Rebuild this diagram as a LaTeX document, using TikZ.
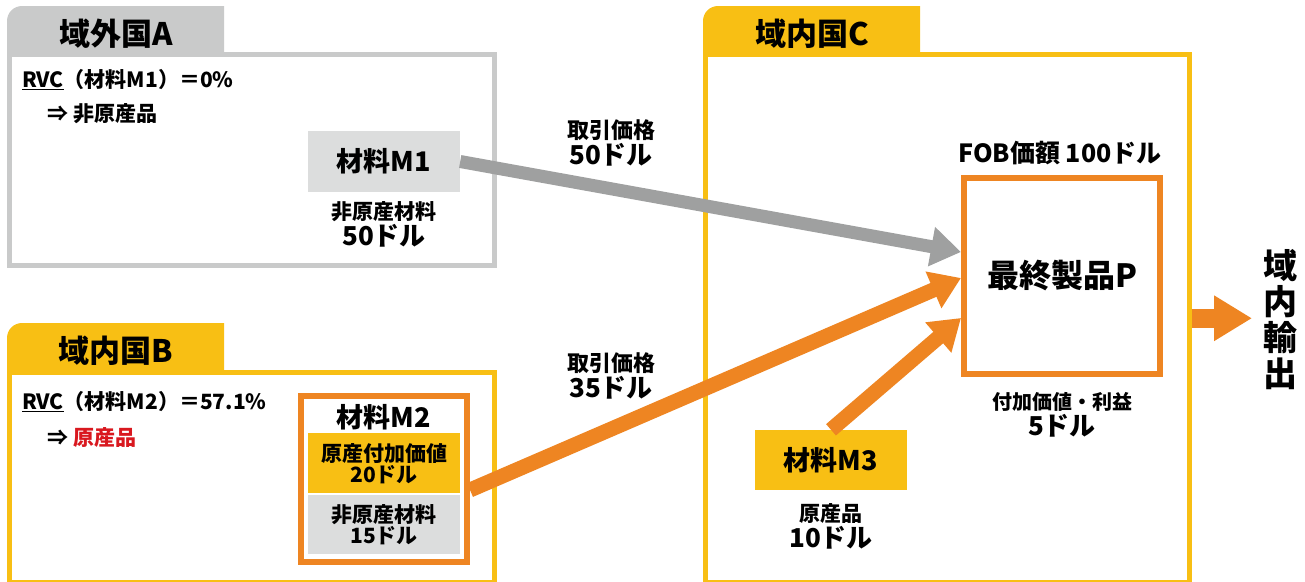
\documentclass[tikz,border=0pt]{standalone}
\usepackage{fontspec}
\setmainfont{Noto Sans CJK JP}
\usetikzlibrary{arrows.meta,positioning}

\definecolor{paleGray}{HTML}{C9CACA}
\definecolor{boxGray}{HTML}{DCDDDD}
\definecolor{arrowGray}{HTML}{9FA0A0}
\definecolor{gold}{HTML}{F8BF14}
\definecolor{tangerine}{HTML}{EE8522}
\definecolor{alertRed}{HTML}{D9181F}

\newcommand{\fsz}[1]{\fontsize{#1}{#1}\selectfont}

\begin{document}
\begin{tikzpicture}[
    x=1pt, y=-1pt,
    country/.style={draw, line width=5pt, fill=white, inner sep=0pt},
    title/.style={font=\fsz{31}\bfseries},
    rvc/.style={anchor=west, font=\fsz{21}\bfseries, inner sep=0pt},
    mat/.style={inner sep=0pt, minimum width=152pt, font=\fsz{27}\bfseries},
    cell/.style={inner sep=0pt, minimum width=152pt, align=center, font=\fsz{21}\bfseries, text depth=0pt},
    notetext/.style={align=center, inner sep=0pt},
    flow/.style={line width=15pt, tangerine, -{Triangle[width=38pt,length=30pt]}},
    graylink/.style={line width=13pt, arrowGray, -{Triangle[width=38pt,length=30pt]}}
]
    \useasboundingbox (0,0) rectangle (1305,581);

    % country boxes
    \node [country, draw=paleGray, minimum width=484.5pt, minimum height=211pt] (boxA) at (251.75,160) {};
    \node [country, draw=gold, minimum width=484.5pt, minimum height=210pt] (boxB) at (251.75,477) {};
    \node [country, draw=gold, minimum width=484pt, minimum height=527.5pt] (boxC) at (947,318.25) {};

    % tabs
    \fill [paleGray] (7,55) -- (7,21) arc[start angle=180, end angle=270, radius=15] -- (224,6) -- (224,55) -- cycle;
    \fill [gold] (7,372) -- (7,338) arc[start angle=180, end angle=270, radius=15] -- (224,323) -- (224,372) -- cycle;
    \fill [gold] (703,55) -- (703,21) arc[start angle=180, end angle=270, radius=15] -- (920,6) -- (920,55) -- cycle;
    \node [title] (tabA) at (116,34) {域外国A};
    \node [title] (tabB) at (116,351) {域内国B};
    \node [title] (tabC) at (812,34) {域内国C};

    % country A
    \node [rvc] (rvcA) at (22,80) {\underline{RVC}（材料M1）＝0\%};
    \node [rvc] (resA) at (47,114) {⇒ 非原産品};
    \node [mat, fill=boxGray, minimum height=61pt] (mOne) at (384,161.5) {材料M1};
    \node [notetext, below=9pt of mOne] (mOneNote) {{\fsz{21}\bfseries 非原産材料}\\[2pt]{\fsz{26}\bfseries 50ドル}};

    % country B
    \node [rvc] (rvcB) at (22,402) {\underline{RVC}（材料M2）＝57.1\%};
    \node [rvc] (resB) at (47,438) {⇒ \textcolor{alertRed}{原産品}};
    \node [draw=tangerine, line width=6pt, minimum width=166pt, minimum height=166pt, inner sep=0pt] (mTwo) at (384,479) {};
    \node [font=\fsz{27}\bfseries] (mTwoName) at (384,417) {材料M2};
    \node [cell, fill=gold, minimum height=60pt] (addVal) at (384,463) {原産付加価値\\20ドル};
    \node [cell, fill=boxGray, minimum height=59pt] (nonOrig) at (384,524.5) {非原産材料\\15ドル};

    % country C
    \node [draw=tangerine, line width=6pt, minimum width=196pt, minimum height=196pt, inner sep=0pt,
           font=\fsz{32}\bfseries] (prod) at (1062,276) {最終製品P};
    \node [font=\fsz{25}\bfseries] (fob) at (1060,153) {FOB価額 100ドル};
    \node [notetext, below=15pt of prod] (profit) {{\fsz{20}\bfseries 付加価値・利益}\\[2pt]{\fsz{26}\bfseries 5ドル}};
    \node [mat, fill=gold, minimum height=60pt] (mThree) at (831,460) {材料M3};
    \node [notetext, below=13pt of mThree] (mThreeNote) {{\fsz{21}\bfseries 原産品}\\[2pt]{\fsz{26}\bfseries 10ドル}};

    % prices
    \node [notetext] (priceA) at (611,143) {{\fsz{22}\bfseries 取引価格}\\[2pt]{\fsz{26}\bfseries 50ドル}};
    \node [notetext] (priceB) at (611,376) {{\fsz{22}\bfseries 取引価格}\\[2pt]{\fsz{26}\bfseries 35ドル}};

    % export
    \node [font=\fsz{34}\bfseries, align=center, inner sep=0pt] (export) at (1280,320) {域\\[2pt]内\\[2pt]輸\\[2pt]出};
    \coordinate (exTip) at (1252,318.25);

    % arrows
    \draw [graylink] (mOne.east) -- ([yshift=24pt]prod.west);
    \draw [flow] ([yshift=-11pt]mTwo.east) -- ([yshift=-2pt]prod.west);
    \draw [flow] (mThree.north) -- ([yshift=-42pt]prod.west);
    \draw [line width=19pt, tangerine, -{Triangle[width=43pt,length=38pt]}] (boxC.east) -- (exTip);

\end{tikzpicture}
\end{document}
